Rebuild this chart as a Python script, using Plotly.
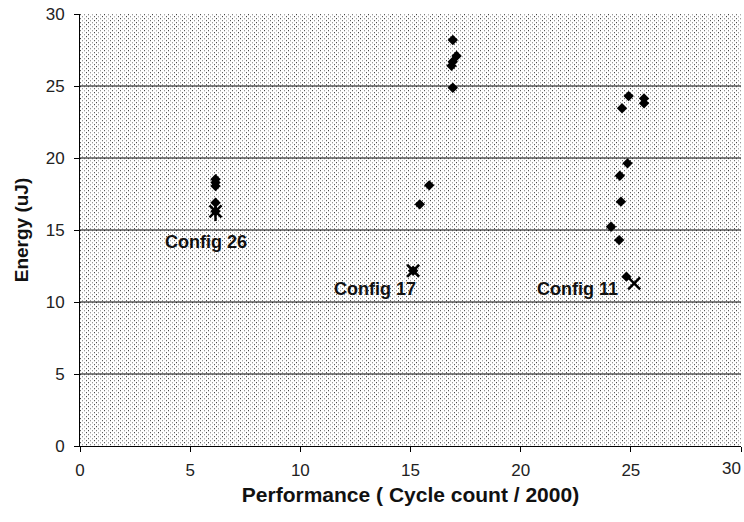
import base64
import struct
import zlib

import numpy as np
import plotly.graph_objects as go

# Measured configurations: performance (cycle count / 2000) vs. energy (uJ)
perf = [6.15, 6.15, 6.15, 6.15, 6.15,
        16.92, 17.09, 16.92, 16.86, 16.92, 15.85, 15.42, 15.12,
        24.9, 25.6, 25.6, 24.6, 24.85, 24.5, 24.55, 24.1, 24.47, 24.8]
energy = [18.52, 18.29, 18.06, 16.9, 16.3,
          28.19, 27.08, 26.69, 26.4, 24.88, 18.1, 16.78, 12.17,
          24.3, 24.14, 23.8, 23.45, 19.63, 18.77, 16.97, 15.23, 14.3, 11.76]

# Highlighted configurations
cfg_names = ["Config 26", "Config 17", "Config 11"]
cfg_perf = [6.15, 15.12, 25.15]
cfg_energy = [16.3, 12.17, 11.3]
cfg_is_star = [True, False, False]
# Label anchor points for each highlighted configuration
lbl_perf = [5.7, 13.4, 22.6]
lbl_energy = [14.2, 10.9, 10.9]

x_ticks = [0, 5, 10, 15, 20, 25, 30]
y_ticks = [0, 5, 10, 15, 20, 25, 30]

W, H = 744, 522
ML, MR, MT, MB = 80, 3, 14, 76
PW, PH = W - ML - MR, H - MT - MB
FONT = "Liberation Sans, Arial"
TICK_FONT = dict(family=FONT, size=17, color="#222")


def stipple_png(w, h):
    """Grey stipple fill for the plotting area, encoded as a PNG data URI."""
    a = np.full((h, w), 255, dtype=np.uint8)
    shades = np.array([70, 150, 120, 175, 95, 160], dtype=np.uint8)
    for r in range(0, h, 2):
        off = 2 * ((r // 2) % 2)
        cols = np.arange(off, w, 4)
        a[r, cols] = shades[(cols // 4 + r // 2) % len(shades)]
        if r + 1 < h:
            a[r + 1, cols] = 220
    raw = b"".join(b"\x00" + row.tobytes() for row in a)

    def chunk(tag, data):
        return (struct.pack(">I", len(data)) + tag + data
                + struct.pack(">I", zlib.crc32(tag + data) & 0xFFFFFFFF))

    png = (b"\x89PNG\r\n\x1a\n"
           + chunk(b"IHDR", struct.pack(">IIBBBBB", w, h, 8, 0, 0, 0, 0))
           + chunk(b"IDAT", zlib.compress(raw, 9))
           + chunk(b"IEND", b""))
    return "data:image/png;base64," + base64.b64encode(png).decode()


fig = go.Figure()

fig.add_trace(go.Scatter(
    x=perf, y=energy, mode="markers",
    marker=dict(symbol="diamond", size=8, color="black"),
    showlegend=False, hoverinfo="x+y",
))

# Cross markers on every highlighted configuration
fig.add_trace(go.Scatter(
    x=cfg_perf, y=cfg_energy, mode="markers",
    marker=dict(symbol="x-thin-open", size=12, color="black",
                line=dict(color="black", width=2.5)),
    showlegend=False, hoverinfo="x+y",
))

# Vertical stroke turns the cross into a star for the starred configuration
star_x = [p for p, s in zip(cfg_perf, cfg_is_star) if s]
star_y = [e for e, s in zip(cfg_energy, cfg_is_star) if s]
fig.add_trace(go.Scatter(
    x=star_x, y=star_y, mode="markers",
    marker=dict(symbol="line-ns-open", size=14, color="black",
                line=dict(color="black", width=2.5)),
    showlegend=False, hoverinfo="skip",
))

for name, px, py in zip(cfg_names, lbl_perf, lbl_energy):
    fig.add_annotation(x=px, y=py, text=f"<b>{name}</b>", showarrow=False,
                       font=dict(family=FONT, size=18, color="#111"))

# Horizontal grid lines at the interior y ticks
for v in y_ticks[1:-1]:
    fig.add_shape(type="line", xref="paper", x0=0, x1=1, yref="y", y0=v, y1=v,
                  line=dict(color="black", width=1), layer="below")

fig.add_layout_image(dict(
    source=stipple_png(PW, PH), xref="paper", yref="paper",
    x=0, y=1, sizex=1, sizey=1, xanchor="left", yanchor="top",
    sizing="stretch", layer="below",
))

axis_common = dict(
    showgrid=False, zeroline=False, automargin=False,
    showline=True, linecolor="black", linewidth=1,
    ticks="outside", ticklen=5, tickcolor="black", tickwidth=1,
    tickfont=TICK_FONT,
)

# The last x label is right-aligned to its tick so it stays on the page
x_text = [str(v) for v in x_ticks]
x_text[-1] = ""
fig.add_annotation(x=x_ticks[-1], xref="x", y=0, yref="paper",
                   text=str(x_ticks[-1]), showarrow=False,
                   xanchor="right", yanchor="top", xshift=2, yshift=-11,
                   font=TICK_FONT)

fig.update_xaxes(
    range=[x_ticks[0], x_ticks[-1]], tickvals=x_ticks, ticktext=x_text,
    ticklabelstandoff=4,
    title=dict(text="<b>Performance ( Cycle count / 2000)</b>",
               font=dict(family=FONT, size=21, color="#111"),
               standoff=7),
    **axis_common,
)
fig.update_yaxes(
    range=[y_ticks[0], y_ticks[-1]], tickvals=y_ticks,
    ticklabelstandoff=6,
    title=dict(text="<b>Energy (uJ)</b>",
               font=dict(family=FONT, size=19, color="#111"),
               standoff=12),
    **axis_common,
)

fig.update_layout(
    width=W, height=H,
    margin=dict(l=ML, r=MR, t=MT, b=MB, autoexpand=False),
    paper_bgcolor="white",
    plot_bgcolor="rgba(0,0,0,0)",
)

fig.write_html("out.html")
